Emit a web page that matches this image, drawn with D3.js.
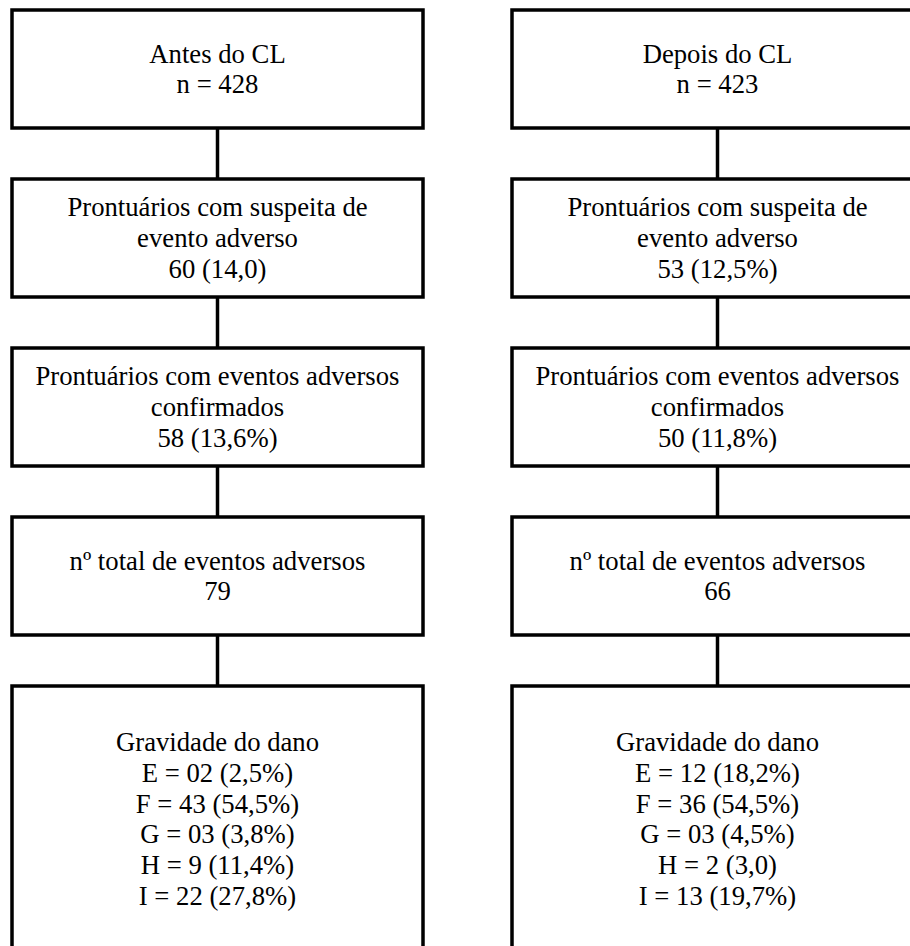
<!DOCTYPE html>
<html>
<head>
<meta charset="utf-8">
<script src="https://cdn.jsdelivr.net/npm/d3@7"></script>
<style>
  body { margin: 0; background: #fff; }
  svg { display: block; }
</style>
</head>
<body>
<div id="chart"></div>
<script>
// columns of the flow diagram
var columns = ["antes", "depois"];

// box texts, one array per column (each entry = lines of one box)
var antesBoxes = [
    ["Antes do CL", "n = 428"],
    ["Prontuários com suspeita de", "evento adverso", "60 (14,0)"],
    ["Prontuários com eventos adversos", "confirmados", "58 (13,6%)"],
    ["nº total de eventos adversos", "79"],
    ["Gravidade do dano", "E = 02 (2,5%)", "F = 43 (54,5%)", "G = 03 (3,8%)", "H = 9 (11,4%)", "I = 22 (27,8%)"]
];
var depoisBoxes = [
    ["Depois do CL", "n = 423"],
    ["Prontuários com suspeita de", "evento adverso", "53 (12,5%)"],
    ["Prontuários com eventos adversos", "confirmados", "50 (11,8%)"],
    ["nº total de eventos adversos", "66"],
    ["Gravidade do dano", "E = 12 (18,2%)", "F = 36 (54,5%)", "G = 03 (4,5%)", "H = 2 (3,0)", "I = 13 (19,7%)"]
];

var width = 910, height = 946;
var boxW = 411, boxH = 118, lastBoxH = 266;
var lineH = 30.7;

var svg = d3.select("#chart").append("svg")
    .attr("width", width)
    .attr("height", height);

// column centres
var x = d3.scaleOrdinal()
    .domain(columns)
    .range([217.5, 717.5]);

// box tops by step index
var y = d3.scaleLinear()
    .domain([0, 4])
    .range([10, 686]);

function boxHeight(i, n) {
    return i === n - 1 ? lastBoxH : boxH;
}

function drawColumn(key, boxes) {
    var cx = x(key);
    var g = svg.append("g").attr("class", "col-" + key);

    // connectors between boxes
    g.selectAll("line")
        .data(boxes.slice(0, -1))
        .enter().append("line")
        .attr("x1", cx)
        .attr("x2", cx)
        .attr("y1", function(d, i) { return y(i) + boxH; })
        .attr("y2", function(d, i) { return y(i + 1); })
        .style("stroke", "#000")
        .style("stroke-width", 3.5);

    var box = g.selectAll(".box")
        .data(boxes)
        .enter().append("g")
        .attr("class", "box");

    box.append("rect")
        .attr("x", cx - boxW / 2)
        .attr("y", function(d, i) { return y(i); })
        .attr("width", boxW)
        .attr("height", function(d, i) { return boxHeight(i, boxes.length); })
        .style("fill", "#fff")
        .style("stroke", "#000")
        .style("stroke-width", 3.5);

    box.each(function(lines, i) {
        var h = boxHeight(i, boxes.length);
        var mid = y(i) + h / 2;
        var first = mid - (lines.length - 1) * lineH / 2 + 9;
        d3.select(this).selectAll("text")
            .data(lines)
            .enter().append("text")
            .attr("x", cx)
            .attr("y", function(t, j) { return first + j * lineH; })
            .style("text-anchor", "middle")
            .style("font-family", "'Liberation Serif', 'Times New Roman', serif")
            .style("font-size", "26.7px")
            .style("fill", "#000")
            .text(function(t) { return t; });
    });
}

drawColumn("antes", antesBoxes);
drawColumn("depois", depoisBoxes);
</script>
</body>
</html>
